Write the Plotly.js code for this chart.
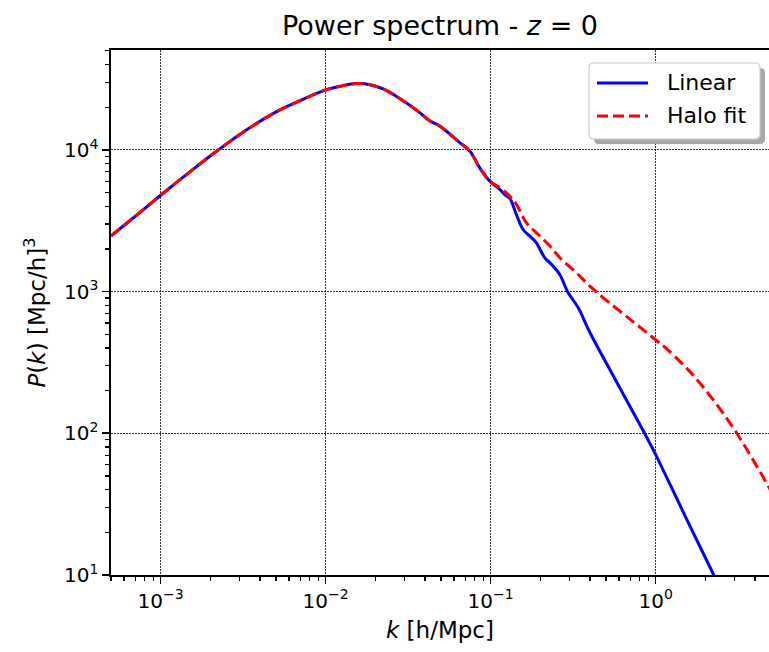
<!DOCTYPE html>
<html>
<head>
<meta charset="utf-8">
<script src="https://cdn.plot.ly/plotly-3.0.1.min.js"></script>
<style>html,body{margin:0;padding:0;background:#fff;}#chart{width:769px;height:652px;}</style>
</head>
<body>
<div id="chart"></div>
<script>
// ---- data ----
const linearK = [5.0e-4, 7.08e-4, 1.0e-3, 1.62e-3, 2.15e-3, 3.11e-3, 4.95e-3, 6.95e-3, 1.01e-2, 1.26e-2, 1.53e-2, 1.86e-2, 2.23e-2, 2.75e-2, 3.72e-2, 4.27e-2, 4.91e-2, 6.49e-2, 7.46e-2, 8.57e-2, 9.86e-2, 0.1135, 0.1242, 0.1303, 0.1429, 0.1567, 0.1722, 0.1888, 0.2123, 0.2333, 0.2618, 0.2944, 0.3388, 0.398, 0.5689, 0.857, 1.0, 1.535, 2.249, 2.512];
const linearP = [2470, 3428, 4786, 7499, 9660, 13183, 18408, 22182, 26607, 28314, 29376, 28840, 26915, 23442, 18323, 16032, 14757, 11272, 9840, 7499, 6039, 5272, 4732, 4571, 3516, 2754, 2472, 2218, 1738, 1560, 1327, 984, 771, 519, 240, 100, 70.8, 25.0, 10.0, 7.67];

const halofitK = [5.0e-4, 7.08e-4, 1.0e-3, 1.62e-3, 2.15e-3, 3.11e-3, 4.95e-3, 6.95e-3, 1.01e-2, 1.26e-2, 1.53e-2, 1.86e-2, 2.23e-2, 2.75e-2, 3.72e-2, 4.27e-2, 4.91e-2, 6.49e-2, 7.46e-2, 8.57e-2, 9.86e-2, 0.1135, 0.1303, 0.1429, 0.1644, 0.1936, 0.228, 0.2618, 0.3304, 0.398, 0.4797, 0.7194, 1.0, 1.148, 1.452, 1.667, 2.113, 3.055, 4.797, 5.0];
const halofitP = [2470, 3428, 4786, 7499, 9660, 13183, 18408, 22182, 26607, 28314, 29376, 28840, 26915, 23442, 18323, 16032, 14757, 11272, 9840, 7499, 6039, 5420, 4732, 4140, 3069, 2541, 2104, 1738, 1361, 1096, 908, 621, 457, 401, 309, 261, 187, 103, 42.7, 39.0];

const seriesNames = ['Linear', 'Halo fit'];
const seriesColors = ['#0000ff', '#ff0000'];
const xTickVals = [1e-3, 1e-2, 1e-1, 1];
const xTickText = ['10<sup>−3</sup>', '10<sup>−2</sup>', '10<sup>−1</sup>', '10<sup>0</sup>'];
const yTickVals = [10, 100, 1000, 10000];
const yTickText = ['10<sup>1</sup>', '10<sup>2</sup>', '10<sup>3</sup>', '10<sup>4</sup>'];

// ---- minor tick positions (2..9 x 10^n) ----
function minorTicks(d0, d1) {
  const out = [];
  for (let d = d0; d <= d1; d++) for (let m = 2; m <= 9; m++) out.push(m * Math.pow(10, d));
  return out;
}

const FONT = 'DejaVu Sans, sans-serif';
const W = 769, H = 652;
const M = {l: 111, r: 0, t: 50, b: 77};
const PW = W - M.l - M.r, PH = H - M.t - M.b;
const px2x = px => (px - M.l) / PW;
const px2y = py => (H - M.b - py) / PH;

const DASH = '11px,5px';
const traces = [
  {x: linearK, y: linearP, name: seriesNames[0], type: 'scatter', mode: 'lines',
   line: {color: seriesColors[0], width: 3, shape: 'spline', smoothing: 1}},
  {x: halofitK, y: halofitP, name: seriesNames[1], type: 'scatter', mode: 'lines',
   line: {color: seriesColors[1], width: 3, dash: DASH, shape: 'spline', smoothing: 1}}
];

const axisCommon = {
  type: 'log',
  showline: true, linecolor: '#000', linewidth: 1.6,
  ticks: 'outside', ticklen: 7, tickwidth: 1.6, tickcolor: '#000',
  showgrid: true, gridcolor: '#000', gridwidth: 0.8, griddash: '1.5px,1.5px',
  zeroline: false,
  tickfont: {family: FONT, size: 20, color: '#000'},
  tickmode: 'array',
  automargin: false
};

// ---- hand-drawn legend box (rounded, with shadow) ----
function roundRect(x0, y0, x1, y1, r) {
  // pixel coords -> paper path
  const X = px2x, Y = px2y;
  const rx = r / PW, ry = r / PH;
  const a = X(x0), b = X(x1), t = Y(y0), u = Y(y1);
  return `M${a + rx},${t} L${b - rx},${t} Q${b},${t} ${b},${t - ry} L${b},${u + ry} Q${b},${u} ${b - rx},${u} L${a + rx},${u} Q${a},${u} ${a},${u + ry} L${a},${t - ry} Q${a},${t} ${a + rx},${t} Z`;
}
const LEG = {x0: 589, y0: 63, x1: 760, y1: 139, shadow: 5};
const legendRows = [83, 116];

const shapes = [
  {type: 'path', xref: 'paper', yref: 'paper', layer: 'above',
   path: roundRect(LEG.x0 + LEG.shadow, LEG.y0 + LEG.shadow, LEG.x1 + LEG.shadow, LEG.y1 + LEG.shadow, 5),
   fillcolor: '#a8a8a8', line: {width: 0}},
  {type: 'path', xref: 'paper', yref: 'paper', layer: 'above',
   path: roundRect(LEG.x0, LEG.y0, LEG.x1, LEG.y1, 5),
   fillcolor: '#ffffff', line: {color: '#cccccc', width: 1.2}}
];
const annotations = [];
seriesNames.forEach((nm, i) => {
  shapes.push({type: 'line', xref: 'paper', yref: 'paper', layer: 'above',
    x0: px2x(597), x1: px2x(648), y0: px2y(legendRows[i]), y1: px2y(legendRows[i]),
    line: {color: seriesColors[i], width: 3, dash: i === 1 ? DASH : 'solid'}});
  annotations.push({xref: 'paper', yref: 'paper', x: px2x(665), y: px2y(legendRows[i]),
    xanchor: 'left', yanchor: 'middle', text: nm, showarrow: false,
    font: {family: FONT, size: 22, color: '#000'}});
});

const layout = {
  width: W, height: H,
  margin: M,
  paper_bgcolor: '#fff', plot_bgcolor: '#fff',
  font: {family: FONT, color: '#000'},
  title: {text: 'Power spectrum - <i>z</i> = 0', font: {family: FONT, size: 27, color: '#000'},
          x: 0.5, xref: 'paper', y: 1 - 26 / H, yref: 'container', yanchor: 'middle'},
  xaxis: Object.assign({}, axisCommon, {
    range: [Math.log10(5e-4), Math.log10(5e-4) + PW / 165],
    tickvals: xTickVals, ticktext: xTickText,
    mirror: true,
    minor: {tickmode: 'array', tickvals: minorTicks(-4, 0), ticks: 'outside', ticklen: 4, tickwidth: 1.2, tickcolor: '#000', showgrid: false},
    title: {text: '<i>k</i> [h/Mpc]', font: {family: FONT, size: 23, color: '#000'}, standoff: 10}
  }),
  yaxis: Object.assign({}, axisCommon, {
    range: [1, 1 + PH / 141.7],
    tickvals: yTickVals, ticktext: yTickText,
    mirror: false,
    minor: {tickmode: 'array', tickvals: minorTicks(1, 4), ticks: 'outside', ticklen: 4, tickwidth: 1.2, tickcolor: '#000', showgrid: false},
    title: {text: '<i>P</i>(<i>k</i>) [Mpc/h]<sup>3</sup>', font: {family: FONT, size: 23, color: '#000'}, standoff: 12}
  }),
  showlegend: false,
  shapes: shapes,
  annotations: annotations
};

Plotly.newPlot('chart', traces, layout, {displayModeBar: false, staticPlot: true});
</script>
</body>
</html>
